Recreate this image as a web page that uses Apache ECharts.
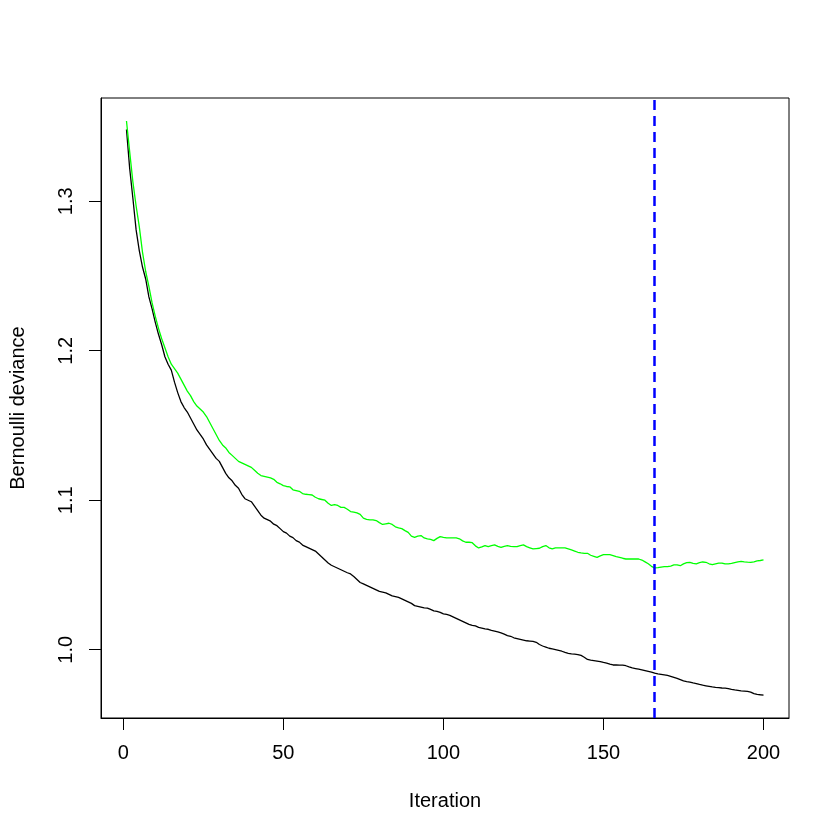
<!DOCTYPE html>
<html>
<head>
<meta charset="utf-8">
<script src="https://cdn.jsdelivr.net/npm/echarts@6/dist/echarts.min.js"></script>
<style>html,body{margin:0;padding:0;background:#fff}#c{width:840px;height:840px}</style>
</head>
<body>
<div id="c"></div>
<script>
// Training deviance (black), iterations 1..200
const trainDeviance = [
1.348,1.322,1.302,1.281,1.267,1.256,1.248,1.236,1.228,1.219,
1.211,1.204,1.196,1.191,1.187,1.179,1.172,1.166,1.162,1.159,
1.155,1.151,1.147,1.144,1.141,1.137,1.134,1.131,1.128,1.126,
1.122,1.118,1.115,1.113,1.110,1.108,1.104,1.101,1.100,1.099,
1.096,1.093,1.090,1.088,1.087,1.086,1.084,1.083,1.081,1.079,
1.078,1.076,1.075,1.073,1.072,1.070,1.069,1.068,1.067,1.066,
1.064,1.062,1.060,1.058,1.0565,1.0555,1.0545,1.0535,1.0525,1.0515,
1.0507,1.049,1.047,1.045,1.044,1.043,1.042,1.041,1.040,1.039,
1.0385,1.038,1.037,1.036,1.0355,1.035,1.034,1.033,1.032,1.031,
1.0295,1.029,1.0285,1.028,1.0279,1.027,1.026,1.0257,1.025,1.024,
1.0236,1.023,1.022,1.021,1.020,1.019,1.018,1.017,1.0163,1.016,
1.015,1.0145,1.014,1.0137,1.013,1.0125,1.012,1.0113,1.0105,1.0095,
1.009,1.008,1.0075,1.007,1.0065,1.006,1.0058,1.0056,1.005,1.0035,
1.0025,1.0018,1.001,1.0005,1.000,0.9995,0.999,0.9982,0.9976,0.9972,
0.997,0.9968,0.9962,0.995,0.9935,0.993,0.9927,0.9924,0.9921,0.9915,
0.991,0.9903,0.9898,0.9898,0.9897,0.9897,0.9893,0.9885,0.9878,0.9874,
0.987,0.9865,0.986,0.9855,0.985,0.9843,0.9838,0.9835,0.9832,0.9828,
0.9822,0.9815,0.9808,0.980,0.9792,0.9787,0.9783,0.9778,0.9774,0.9768,
0.9763,0.9759,0.9755,0.9751,0.9748,0.9746,0.9744,0.9743,0.974,0.9735,
0.9731,0.9728,0.9725,0.9723,0.9721,0.9716,0.9706,0.9702,0.9699,0.9697
];
// Validation deviance (green), iterations 1..200
const validDeviance = [
1.3537,1.333,1.313,1.297,1.283,1.266,1.253,1.243,1.232,1.223,
1.215,1.208,1.202,1.196,1.191,1.188,1.185,1.181,1.177,1.173,
1.170,1.166,1.163,1.161,1.159,1.156,1.152,1.148,1.144,1.140,
1.137,1.135,1.132,1.130,1.128,1.126,1.125,1.124,1.123,1.122,
1.120,1.118,1.1165,1.116,1.1155,1.115,1.114,1.112,1.111,1.1098,
1.1092,1.109,1.107,1.1065,1.106,1.1045,1.104,1.1038,1.1035,1.102,
1.101,1.1005,1.100,1.098,1.0965,1.0971,1.0965,1.0952,1.0952,1.094,
1.0924,1.092,1.0915,1.0905,1.088,1.0872,1.0869,1.0868,1.0864,1.085,
1.0838,1.0842,1.0846,1.0838,1.0822,1.0815,1.081,1.0797,1.0785,1.076,
1.0752,1.076,1.0764,1.0748,1.0741,1.0738,1.073,1.0745,1.0757,1.0752,
1.0748,1.0748,1.0748,1.0748,1.0742,1.0728,1.0719,1.0719,1.0716,1.0695,
1.0681,1.0688,1.0697,1.069,1.0696,1.0701,1.0692,1.0685,1.0692,1.0697,
1.0692,1.069,1.069,1.0697,1.0701,1.069,1.0682,1.0674,1.0677,1.0679,
1.069,1.0697,1.0682,1.0674,1.0681,1.0681,1.0681,1.0681,1.0675,1.0668,
1.066,1.0652,1.0648,1.0645,1.0645,1.0632,1.0625,1.0618,1.0628,1.0636,
1.0636,1.0636,1.063,1.0623,1.0618,1.0612,1.0607,1.0607,1.0607,1.0607,
1.0607,1.060,1.0588,1.0575,1.0558,1.0547,1.0549,1.0553,1.0556,1.0556,
1.056,1.0567,1.0567,1.0562,1.0574,1.0582,1.0585,1.0578,1.0575,1.0582,
1.0587,1.0585,1.0575,1.0569,1.0575,1.058,1.058,1.0574,1.0574,1.0578,
1.0583,1.0588,1.0591,1.0588,1.0586,1.0585,1.0588,1.0594,1.0597,1.0601
];
const bestIteration = [166];
const xTicks = [0, 50, 100, 150, 200];
const yTicks = [1.0, 1.1, 1.2, 1.3];

const iters = trainDeviance.map((_, i) => i + 1);
const trainData = iters.map((it, i) => [it, trainDeviance[i]]);
const validData = iters.map((it, i) => [it, validDeviance[i]]);

const allVals = trainDeviance.concat(validDeviance);
const yMinD = Math.min(...allVals), yMaxD = Math.max(...allVals);
const yPad = (yMaxD - yMinD) * 0.04;
const xMinD = 1, xMaxD = iters.length;
const xPad = (xMaxD - xMinD) * 0.04;

const font = '"Liberation Sans", Arial, sans-serif';
const chart = echarts.init(document.getElementById('c'), null, {renderer: 'canvas'});
chart.setOption({
  animation: false,
  backgroundColor: '#ffffff',
  grid: {left: 98, right: 51, top: 98, bottom: 122, show: true, borderColor: '#000', borderWidth: 1, backgroundColor: 'transparent'},
  xAxis: {
    type: 'value', min: xMinD - xPad, max: xMaxD + xPad,
    name: 'Iteration', nameLocation: 'middle', nameGap: 73,
    nameTextStyle: {fontFamily: font, fontSize: 20, color: '#000'},
    axisLine: {show: true, onZero: false, lineStyle: {color: '#000', width: 1}},
    splitLine: {show: false},
    axisTick: {show: true, length: 12, inside: false, customValues: xTicks, lineStyle: {color: '#000', width: 1}},
    axisLabel: {show: true, margin: 25, customValues: xTicks, fontFamily: font, fontSize: 20, color: '#000', formatter: v => String(Math.round(v))}
  },
  yAxis: {
    type: 'value', min: yMinD - yPad, max: yMaxD + yPad,
    name: 'Bernoulli deviance', nameLocation: 'middle', nameGap: 73, nameRotate: 90,
    nameTextStyle: {fontFamily: font, fontSize: 20, color: '#000'},
    axisLine: {show: true, onZero: false, lineStyle: {color: '#000', width: 1}},
    splitLine: {show: false},
    axisTick: {show: true, length: 12, inside: false, customValues: yTicks, lineStyle: {color: '#000', width: 1}},
    axisLabel: {show: true, margin: 25, rotate: 90, customValues: yTicks, fontFamily: font, fontSize: 20, color: '#000', formatter: v => v.toFixed(1)}
  },
  series: [
    {type: 'line', data: trainData, showSymbol: false, symbol: 'none', lineStyle: {color: '#000000', width: 1.3}, z: 2},
    {type: 'line', data: validData, showSymbol: false, symbol: 'none', lineStyle: {color: '#00ff00', width: 1.3}, z: 3,
     markLine: {silent: true, symbol: ['none', 'none'], label: {show: false},
       lineStyle: {color: '#0000ff', width: 2.5, type: [10, 6]},
       data: bestIteration.map(b => ({xAxis: b}))}}
  ]
});
</script>
</body>
</html>
